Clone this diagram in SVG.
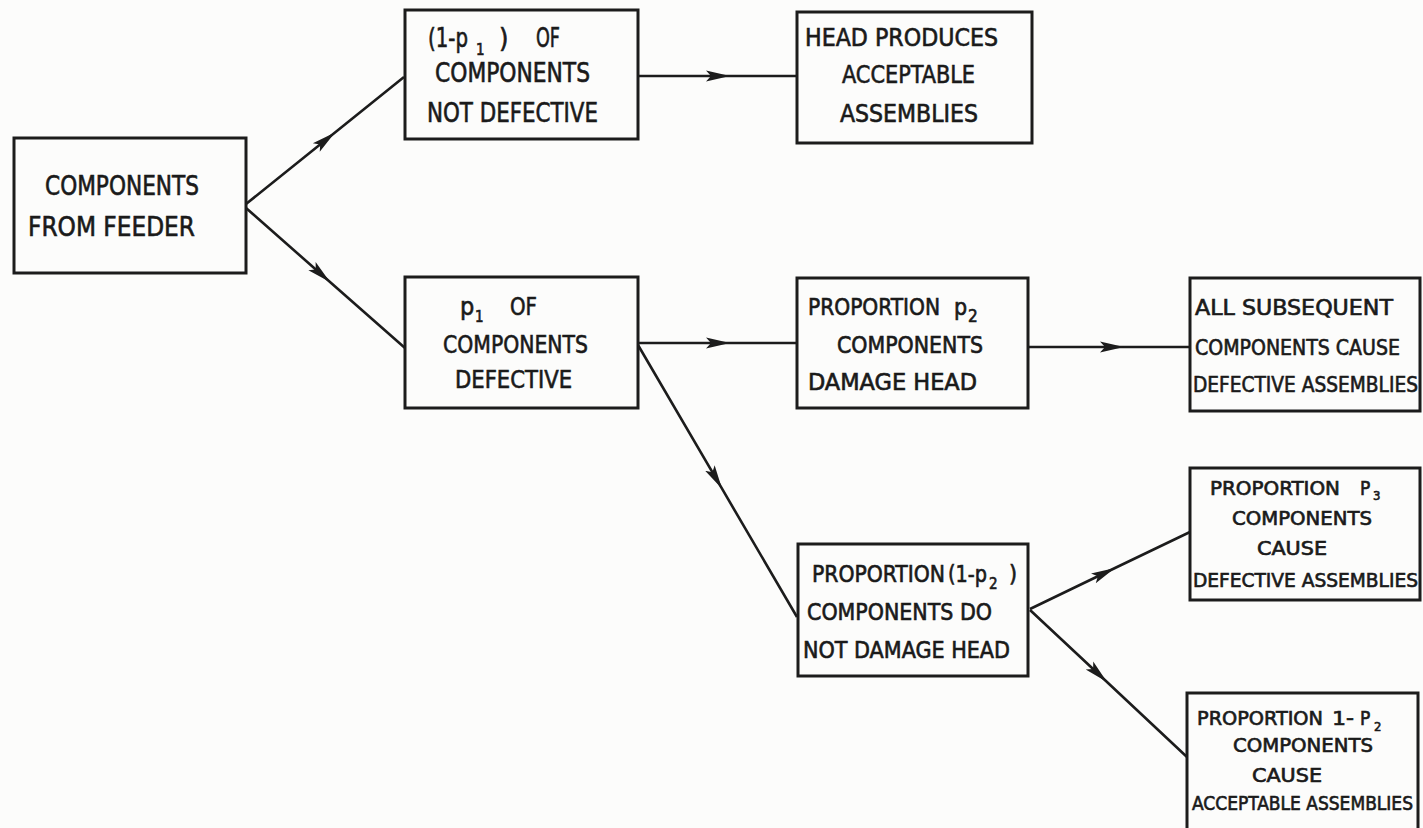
<svg xmlns="http://www.w3.org/2000/svg" width="1423" height="828" viewBox="0 0 1423 828">
  <defs>
    <style>
      .box { fill: none; stroke: #1c1c1c; stroke-width: 3; }
      .wire { fill: none; stroke: #1c1c1c; stroke-width: 2.6; marker-mid: url(#dart); }
      text { font-family: "DejaVu Sans Condensed", "DejaVu Sans", "Liberation Sans", sans-serif; fill: #1a1a1a; stroke: #1a1a1a; stroke-width: 0.6; }
      .f27 { font-size: 27px; }
      .f25 { font-size: 25px; }
      .f23 { font-size: 23px; }
      .f21 { font-size: 21px; }
      .f19 { font-size: 19px; }
      .s17 { font-size: 17px; }
      .s15 { font-size: 15px; }
      .s13 { font-size: 13px; }
    </style>
    <marker id="dart" markerUnits="userSpaceOnUse" viewBox="0 -7 26 14" markerWidth="26" markerHeight="14" refX="24" refY="0" orient="auto">
      <path d="M0,-5.5 L24,0 L0,5.5 L5,0 z" fill="#1c1c1c"/>
    </marker>
  </defs>

  <rect width="1423" height="828" fill="#fcfcfb"/>

  <!-- connectors: start, arrow point, end -->
  <g id="connectors">
    <polyline class="wire" points="246,204 335,132.5 404,77"/>
    <polyline class="wire" points="246,208 330,282 405,348"/>
    <polyline class="wire" points="638,76 730,76 797,76"/>
    <polyline class="wire" points="638,343 730,343 797,343"/>
    <polyline class="wire" points="638,345 722,488.7 797,617"/>
    <polyline class="wire" points="1028,347 1124,347 1190,347"/>
    <polyline class="wire" points="1030,609 1115,568 1190,532"/>
    <polyline class="wire" points="1030,610 1107,682 1187,757"/>
  </g>

  <g id="feeder">
    <rect class="box" x="14" y="138" width="232" height="135"/>
    <text class="f27" x="45" y="195" textLength="154" lengthAdjust="spacingAndGlyphs">COMPONENTS</text>
    <text class="f27" x="28" y="236" textLength="167" lengthAdjust="spacingAndGlyphs">FROM FEEDER</text>
  </g>

  <g id="not-defective">
    <rect class="box" x="405" y="10" width="233" height="129"/>
    <text class="f27" x="428" y="47" textLength="40" lengthAdjust="spacingAndGlyphs">(1-p</text>
    <text class="s15" x="476" y="55">1</text>
    <text class="f27" x="499" y="47">)</text>
    <text class="f27" x="536" y="47" textLength="24" lengthAdjust="spacingAndGlyphs">OF</text>
    <text class="f27" x="435" y="82" textLength="155" lengthAdjust="spacingAndGlyphs">COMPONENTS</text>
    <text class="f27" x="427" y="122" textLength="171" lengthAdjust="spacingAndGlyphs">NOT DEFECTIVE</text>
  </g>

  <g id="acceptable-head">
    <rect class="box" x="797" y="12" width="235" height="131"/>
    <text class="f25" x="805" y="46" textLength="193" lengthAdjust="spacingAndGlyphs">HEAD PRODUCES</text>
    <text class="f25" x="842" y="83" textLength="133" lengthAdjust="spacingAndGlyphs">ACCEPTABLE</text>
    <text class="f25" x="840" y="122" textLength="138" lengthAdjust="spacingAndGlyphs">ASSEMBLIES</text>
  </g>

  <g id="defective">
    <rect class="box" x="405" y="277" width="233" height="131"/>
    <text class="f25" x="460" y="315">p</text>
    <text class="s15" x="475" y="322">1</text>
    <text class="f25" x="510" y="315" textLength="27" lengthAdjust="spacingAndGlyphs">OF</text>
    <text class="f25" x="443" y="353" textLength="145" lengthAdjust="spacingAndGlyphs">COMPONENTS</text>
    <text class="f25" x="455" y="388" textLength="117" lengthAdjust="spacingAndGlyphs">DEFECTIVE</text>
  </g>

  <g id="damage-head">
    <rect class="box" x="797" y="278" width="231" height="130"/>
    <text class="f23" x="808" y="315" textLength="132" lengthAdjust="spacingAndGlyphs">PROPORTION</text>
    <text class="f23" x="954" y="315">p</text>
    <text class="s17" x="968" y="322">2</text>
    <text class="f23" x="837" y="353" textLength="146" lengthAdjust="spacingAndGlyphs">COMPONENTS</text>
    <text class="f23" x="808" y="390" textLength="169" lengthAdjust="spacingAndGlyphs">DAMAGE HEAD</text>
  </g>

  <g id="all-defective">
    <rect class="box" x="1190" y="278" width="230" height="133"/>
    <text class="f21" x="1195" y="315" textLength="198" lengthAdjust="spacingAndGlyphs">ALL SUBSEQUENT</text>
    <text class="f21" x="1195" y="355" textLength="205" lengthAdjust="spacingAndGlyphs">COMPONENTS CAUSE</text>
    <text class="f21" x="1193" y="392" textLength="225" lengthAdjust="spacingAndGlyphs">DEFECTIVE ASSEMBLIES</text>
  </g>

  <g id="no-damage">
    <rect class="box" x="798" y="544" width="230" height="132"/>
    <text class="f23" x="812" y="582" textLength="133" lengthAdjust="spacingAndGlyphs">PROPORTION</text>
    <text class="f23" x="948" y="582" textLength="39" lengthAdjust="spacingAndGlyphs">(1-p</text>
    <text class="s15" x="989" y="589">2</text>
    <text class="f23" x="1009" y="582">)</text>
    <text class="f23" x="807" y="620" textLength="185" lengthAdjust="spacingAndGlyphs">COMPONENTS DO</text>
    <text class="f23" x="803" y="658" textLength="207" lengthAdjust="spacingAndGlyphs">NOT DAMAGE HEAD</text>
  </g>

  <g id="p3-defective">
    <rect class="box" x="1190" y="468" width="230" height="132"/>
    <text class="f19" x="1210" y="495" textLength="130" lengthAdjust="spacingAndGlyphs">PROPORTION</text>
    <text class="f19" x="1360" y="495">P</text>
    <text class="s13" x="1373" y="500">3</text>
    <text class="f19" x="1232" y="525" textLength="140" lengthAdjust="spacingAndGlyphs">COMPONENTS</text>
    <text class="f19" x="1257" y="555" textLength="70" lengthAdjust="spacingAndGlyphs">CAUSE</text>
    <text class="f19" x="1193" y="587" textLength="225" lengthAdjust="spacingAndGlyphs">DEFECTIVE ASSEMBLIES</text>
  </g>

  <g id="acceptable-assemblies">
    <rect class="box" x="1187" y="693" width="231" height="150"/>
    <text class="f19" x="1197" y="725" textLength="126" lengthAdjust="spacingAndGlyphs">PROPORTION</text>
    <text class="f19" x="1332" y="725" textLength="22" lengthAdjust="spacingAndGlyphs">1-</text>
    <text class="f19" x="1360" y="725">P</text>
    <text class="s13" x="1374" y="731">2</text>
    <text class="f19" x="1233" y="752" textLength="140" lengthAdjust="spacingAndGlyphs">COMPONENTS</text>
    <text class="f19" x="1252" y="782" textLength="70" lengthAdjust="spacingAndGlyphs">CAUSE</text>
    <text class="f19" x="1192" y="810" textLength="221" lengthAdjust="spacingAndGlyphs">ACCEPTABLE ASSEMBLIES</text>
  </g>
</svg>
